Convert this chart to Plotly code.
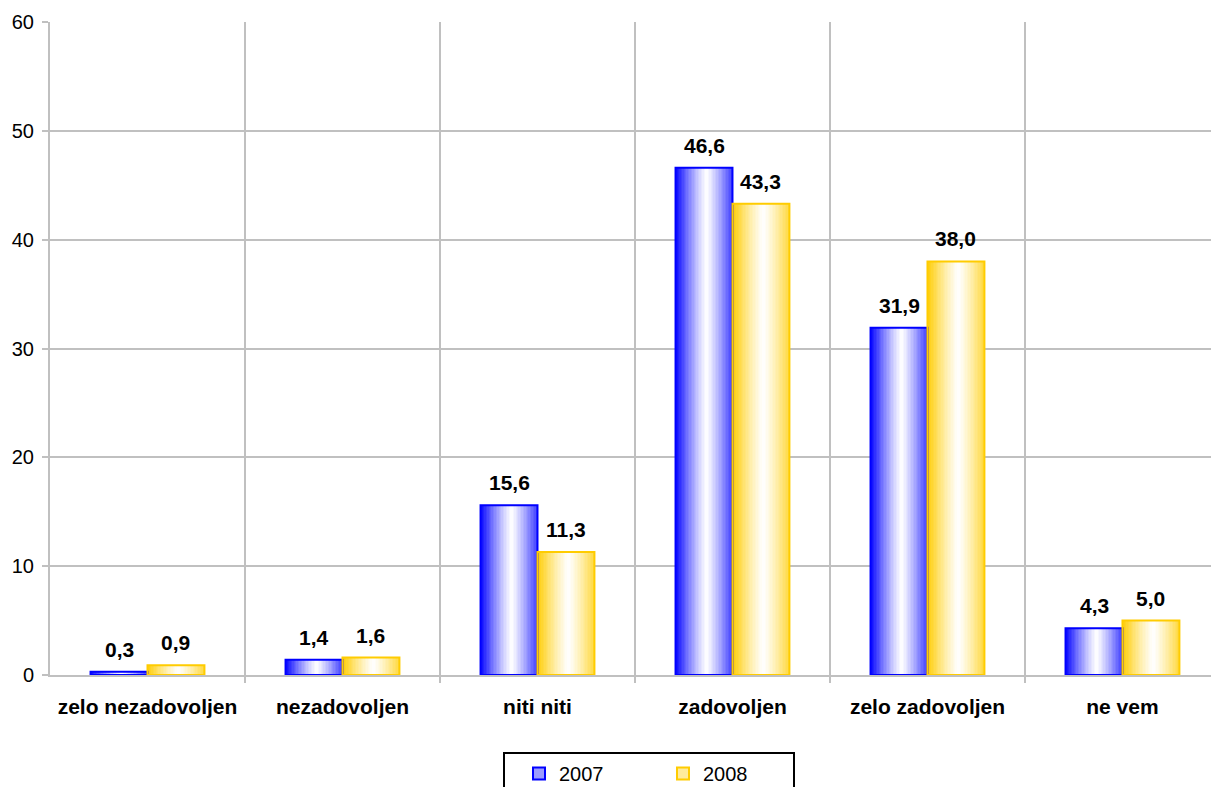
import plotly.graph_objects as go

categories = ["zelo nezadovoljen", "nezadovoljen", "niti niti", "zadovoljen",
              "zelo zadovoljen", "ne vem"]
values_2007 = [0.3, 1.4, 15.6, 46.6, 31.9, 4.3]
values_2008 = [0.9, 1.6, 11.3, 43.3, 38.0, 5.0]
y_ticks = [0, 10, 20, 30, 40, 50, 60]

FONT = "Liberation Sans, Arial, sans-serif"
BLUE = (0, 0, 255)
GOLD = (255, 204, 0)
GRID = "#c0c0c0"

BAR_W = 0.292      # width of one bar in category units
N_SLICES = 40      # vertical strips used to build the horizontal shading


def shade(edge, t, white_at=0.55, right_strength=0.75, power=1.2):
    """Colour at relative position t (0..1) across a bar: edge colour at the
    sides, fading to white near the middle."""
    if t <= white_at:
        k = ((white_at - t) / white_at) ** power
    else:
        k = right_strength * ((t - white_at) / (1 - white_at)) ** power
    r, g, b = (round(255 + (c - 255) * k) for c in edge)
    return f"rgb({r},{g},{b})"


def fmt(v):
    return f"{v:.1f}".replace(".", ",")


x_pos = list(range(len(categories)))
fig = go.Figure()

series = [("2007", values_2007, BLUE, -BAR_W), ("2008", values_2008, GOLD, 0.0)]

# shaded body of each bar, drawn as thin adjacent strips
for name, vals, edge, start in series:
    w = BAR_W / N_SLICES
    for i in range(N_SLICES):
        t = (i + 0.5) / N_SLICES
        fig.add_trace(go.Bar(
            x=x_pos, y=vals, offset=start + i * w, width=w,
            marker=dict(color=shade(edge, t), line=dict(width=0)),
            showlegend=False, hoverinfo="skip",
        ))

# outlines
for name, vals, edge, start in series:
    fig.add_trace(go.Bar(
        x=x_pos, y=vals, offset=start, width=BAR_W,
        marker=dict(color="rgba(0,0,0,0)",
                    line=dict(color=f"rgb{edge}", width=2)),
        showlegend=False, name=name,
    ))

# legend entries
for name, vals, edge, start in series:
    fig.add_trace(go.Bar(
        x=[None], y=[None], name=name,
        marker=dict(color=shade(edge, 0.3),
                    line=dict(color=f"rgb{edge}", width=2)),
    ))

# value labels above the bars
annotations = []
for name, vals, edge, start in series:
    for xi, v in zip(x_pos, vals):
        annotations.append(dict(
            x=xi + start + BAR_W / 2, y=v, xref="x", yref="y",
            text=f"<b>{fmt(v)}</b>", showarrow=False,
            yanchor="bottom", xanchor="center", yshift=9,
            font=dict(family=FONT, size=21, color="black"),
        ))

fig.update_layout(
    width=1211, height=787,
    barmode="overlay",
    paper_bgcolor="white", plot_bgcolor="white",
    margin=dict(l=50, r=0, t=22, b=112, autoexpand=False),
    font=dict(family=FONT, size=20, color="black"),
    annotations=annotations,
    xaxis=dict(
        range=[-0.5, 5.454],
        tickmode="array", tickvals=x_pos, ticktext=[f"<b>{c}</b>" for c in categories],
        ticks="", showgrid=False, zeroline=False,
        showline=True, linecolor=GRID, linewidth=2,
        ticklabelstandoff=12,
        tickfont=dict(family=FONT, size=21),
        minor=dict(tickmode="array", tickvals=[0.5, 1.5, 2.5, 3.5, 4.5],
                   showgrid=True, gridcolor=GRID, gridwidth=2,
                   ticks="outside", ticklen=6, tickcolor=GRID, tickwidth=2),
    ),
    yaxis=dict(
        range=[0, 60], tickmode="array", tickvals=y_ticks,
        showgrid=True, gridcolor=GRID, gridwidth=2, zeroline=False,
        showline=True, linecolor=GRID, linewidth=2,
        ticks="outside", ticklen=6, tickcolor=GRID, tickwidth=2,
        ticklabelstandoff=4,
        tickfont=dict(family=FONT, size=20),
    ),
    legend=dict(
        orientation="h", xref="container", yref="container",
        x=503 / 1211, xanchor="left", y=1 - 752 / 787, yanchor="top",
        bordercolor="black", borderwidth=2, bgcolor="white",
        entrywidth=85, indentation=14, font=dict(family=FONT, size=20),
        itemclick=False, itemdoubleclick=False,
    ),
)

fig.write_html("out.html")
